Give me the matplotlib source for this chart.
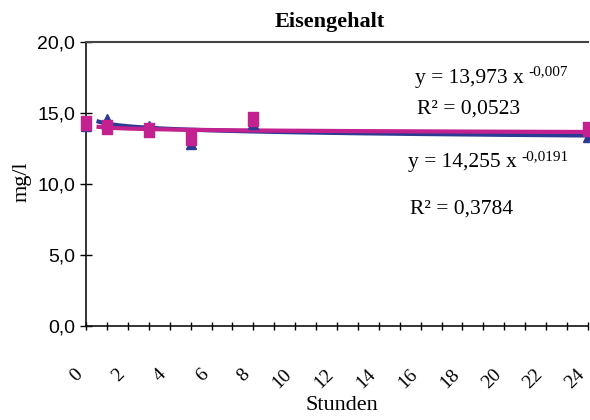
import numpy as np
import matplotlib
matplotlib.use("Agg")
import matplotlib.pyplot as plt
from matplotlib.path import Path
from matplotlib.ticker import MultipleLocator, FuncFormatter

# data
stunden = [0, 1, 3, 5, 8, 24]
serie_blau = [14.1, 14.6, 14.1, 12.8, 14.2, 13.3]
serie_magenta = [14.3, 14.0, 13.8, 13.25, 14.6, 13.9]

# power trendlines as printed in the chart: y = a * x^b
trend_blau = (14.255, -0.0191)
trend_magenta = (13.973, -0.007)

blue = "#2b3a92"
magenta = "#c3218f"
serif = "Liberation Serif"

fig = plt.figure(figsize=(5.9, 4.2), dpi=100)
ax = fig.add_axes([86/590, 1-326/420, 502/590, 284/420])

xt = np.linspace(0.6, 24, 300)
ax.plot(xt, trend_blau[0]*xt**trend_blau[1], color=blue, lw=3, zorder=2)
ax.plot(xt, trend_magenta[0]*xt**trend_magenta[1], color=magenta, lw=3, zorder=3)

rect = Path([(-0.7, -1), (0.7, -1), (0.7, 1), (-0.7, 1), (-0.7, -1)],
            [Path.MOVETO, Path.LINETO, Path.LINETO, Path.LINETO, Path.CLOSEPOLY])
ax.plot(stunden, serie_blau, linestyle="none", marker="^", markersize=7,
        color=blue, zorder=4, clip_on=False)
ax.plot(stunden, serie_magenta, linestyle="none", marker=rect, markersize=10,
        color=magenta, zorder=5, clip_on=False)

ax.set_xlim(0, 24)
ax.set_ylim(0, 20)
ax.xaxis.set_major_locator(MultipleLocator(2))
ax.xaxis.set_minor_locator(MultipleLocator(1))
ax.yaxis.set_major_locator(MultipleLocator(5))
ax.yaxis.set_major_formatter(FuncFormatter(lambda v, p: f"{v:.1f}".replace(".", ",")))

for s in ["left", "bottom"]:
    ax.spines[s].set_color("#111111")
    ax.spines[s].set_linewidth(1.2)
ax.spines["top"].set_color("#444444")
ax.spines["top"].set_linewidth(1.5)
ax.spines["right"].set_visible(False)

ax.tick_params(axis="y", which="major", direction="inout", length=8, width=1,
               labelsize=14, pad=4)
ax.tick_params(axis="x", which="both", direction="inout", length=6, width=1, pad=26)
for lab in ax.get_yticklabels():
    lab.set_fontfamily("Liberation Sans")
for lab in ax.get_xticklabels():
    lab.set_fontfamily(serif)
    lab.set_fontsize(14)
    lab.set_rotation(45)
    lab.set_ha("right")

fig.text(330/590, 1-22/420, "Eisengehalt", ha="center", va="center",
         fontsize=16, family=serif, weight="bold")
fig.text(342/590, 1-405/420, "Stunden", ha="center", va="center",
         fontsize=16, family=serif)
fig.text(22/590, 1-182/420, "mg/l", ha="center", va="center", rotation=90,
         fontsize=16, family=serif)


def equation(x, y, base, exponent):
    t = fig.text(x/590, 1-y/420, base, ha="left", va="center",
                 fontsize=15.5, family=serif)
    fig.canvas.draw()
    bb = t.get_window_extent()
    fig.text((bb.x1 + 5)/590, (bb.y1 - 3)/420, exponent, ha="left", va="center",
             fontsize=11, family=serif)


equation(415, 78, "y = 13,973 x", "-0,007")
fig.text(417/590, 1-109/420, "R² = 0,0523", ha="left", va="center",
         fontsize=15.5, family=serif)
equation(408, 163, "y = 14,255 x", "-0,0191")
fig.text(410/590, 1-209/420, "R² = 0,3784", ha="left", va="center",
         fontsize=15.5, family=serif)

fig.savefig("out.png", dpi=100)
